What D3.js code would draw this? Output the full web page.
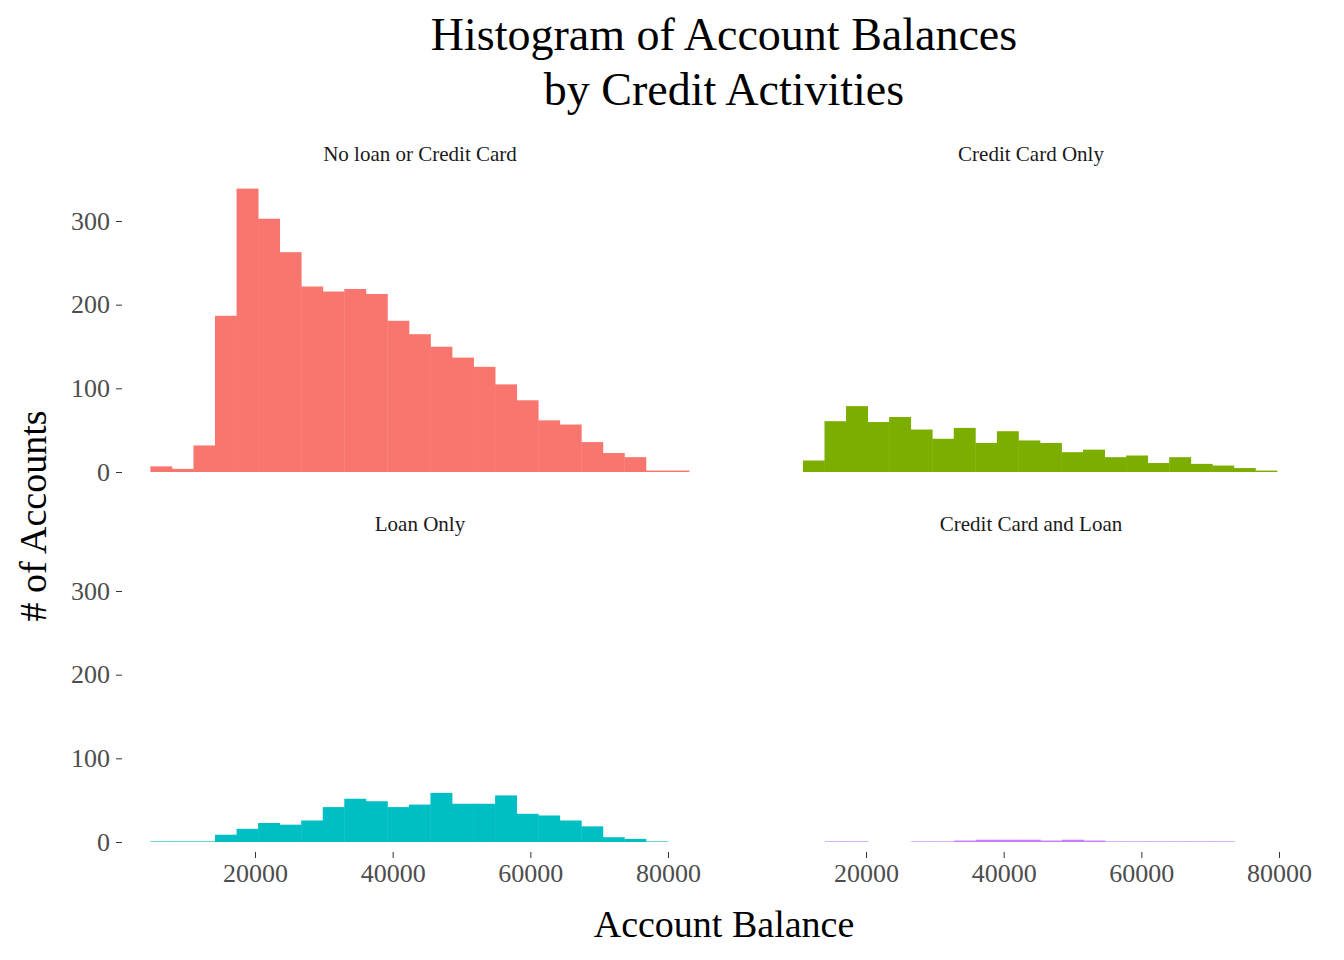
<!DOCTYPE html>
<head>
<meta charset="utf-8">
<style>
  body { margin: 0; background: #fff; }
  text { font-family: "Liberation Serif", "Times New Roman", serif; }
</style>
<script src="https://d3js.org/d3.v7.min.js"></script>
</head>
<body>
<script>
// panel data: bin start, bin width, counts (null = no bar drawn)
var panelNames = ["No loan or Credit Card", "Credit Card Only", "Loan Only", "Credit Card and Loan"];
var panelColors = ["#F8766D", "#7CAE00", "#00BFC4", "#C77CFF"];
var binWidth = 3130;
var binStarts = [4800, 10840, 4800, 14040];
var countsNone = [6, 3, 31, 186, 338, 302, 262, 221, 215, 218, 212, 180, 164, 149, 136, 125, 104, 85, 61, 56, 35, 22, 17, 1, 1];
var countsCard = [13, 60, 78, 59, 65, 50, 39, 52, 34, 48, 37, 34, 23, 26, 17, 19, 10, 17, 9, 7, 4, 1];
var countsLoan = [0, 0, 0, 8, 15, 22, 20, 25, 41, 51, 48, 41, 44, 58, 45, 45, 55, 33, 31, 25, 18, 5, 3, 0];
var countsBoth = [0, 0, null, null, 0, 0, 1, 2, 2, 2, 1, 2, 1, 0, 0, 0, 0, 0, 0];
var panelCounts = [countsNone, countsCard, countsLoan, countsBoth];
var xTicks = [20000, 40000, 60000, 80000];
var yTicks = [0, 100, 200, 300];

var svg = d3.select("body").append("svg").attr("width", 1344).attr("height", 960);

var colOffset = [0, 611];
var rowBase = [472, 842];
var x0 = d3.scaleLinear().domain([20000, 80000]).range([255, 668]);
var yH = d3.scaleLinear().domain([0, 300]).range([0, 251]);

svg.append("text").attr("x", 724).attr("y", 50).attr("text-anchor", "middle")
  .attr("font-size", 46).text("Histogram of Account Balances");
svg.append("text").attr("x", 724).attr("y", 105).attr("text-anchor", "middle")
  .attr("font-size", 46).text("by Credit Activities");

panelNames.forEach(function (name, i) {
  var col = i % 2, row = Math.floor(i / 2);
  var off = colOffset[col];
  var x = d3.scaleLinear().domain(x0.domain()).range(x0.range().map(function (r) { return r + off; }));
  var base = rowBase[row];
  var y = d3.scaleLinear().domain([0, 300]).range([base, base - 251]);
  var g = svg.append("g");

  g.append("text").attr("x", col === 0 ? 420 : 1031).attr("y", base - 311)
    .attr("text-anchor", "middle").attr("font-size", 21).attr("fill", "#1a1a1a").text(name);

  var bins = panelCounts[i].map(function (c, k) {
    return { x0: binStarts[i] + k * binWidth, x1: binStarts[i] + (k + 1) * binWidth, n: c };
  }).filter(function (d) { return d.n !== null; });

  g.selectAll("rect").data(bins).enter().append("rect")
    .attr("x", function (d) { return x(d.x0); })
    .attr("width", function (d) { return x(d.x1) - x(d.x0) + 0.4; })
    .attr("y", function (d) { return y(d.n) - 0.6; })
    .attr("height", function (d) { return base - y(d.n) + 0.6; })
    .attr("fill", panelColors[i]);

  if (col === 0) {
    var ya = g.append("g").attr("transform", "translate(122,0)")
      .call(d3.axisLeft(y).tickValues(yTicks).tickSize(6).tickPadding(6));
    ya.select(".domain").remove();
    ya.selectAll("line").attr("stroke", "#333");
    ya.selectAll("text").attr("font-size", 26).attr("fill", "#4d4d4d")
      .style("font-family", "Liberation Serif");
  }
  if (row === 1) {
    var xa = g.append("g").attr("transform", "translate(0," + (base + 10) + ")")
      .call(d3.axisBottom(x).tickValues(xTicks).tickFormat(d3.format("d")).tickSize(6).tickPadding(6));
    xa.select(".domain").remove();
    xa.selectAll("line").attr("stroke", "#333");
    xa.selectAll("text").attr("font-size", 26).attr("fill", "#4d4d4d")
      .style("font-family", "Liberation Serif");
  }
});

svg.append("text").attr("x", 724).attr("y", 937).attr("text-anchor", "middle")
  .attr("font-size", 38).text("Account Balance");
svg.append("text").attr("transform", "translate(46,516) rotate(-90)").attr("text-anchor", "middle")
  .attr("font-size", 38).text("# of Accounts");
</script>
</body>
